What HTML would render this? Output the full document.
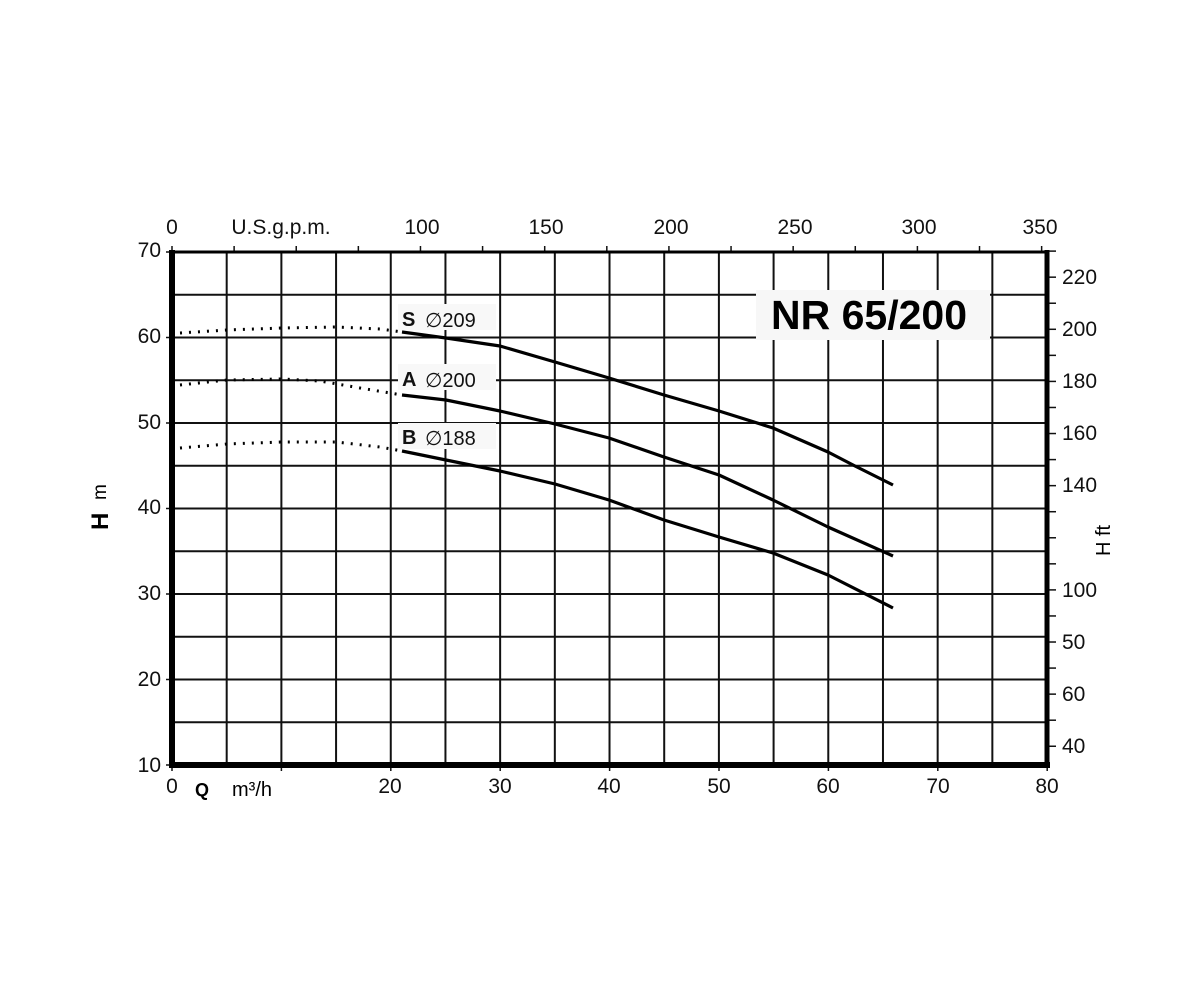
<!DOCTYPE html>
<html><head><meta charset="utf-8"><style>body{margin:0;background:#fff}svg{display:block}text{font-family:"Liberation Sans",sans-serif}</style></head><body>
<svg width="1200" height="1000" viewBox="0 0 1200 1000" xmlns="http://www.w3.org/2000/svg">
<g stroke="#111" stroke-width="2" fill="none" id="grid"></g>
<script>
(function(){
var ns="http://www.w3.org/2000/svg",g=document.getElementById('grid');
function L(x1,y1,x2,y2,w){var l=document.createElementNS(ns,'line');l.setAttribute('x1',x1);l.setAttribute('y1',y1);l.setAttribute('x2',x2);l.setAttribute('y2',y2);if(w)l.setAttribute('stroke-width',w);g.appendChild(l);}
for(var i=1;i<16;i++){var x=172+i*54.69;L(x,252,x,765);}
for(var j=1;j<12;j++){var y=252+j*42.75;L(172,y,1047,y);}
for(var k=0;k<=14;k++){var x=172+k*25/4.403*10.94;L(x,246,x,252,1.5);}
for(var f=40;f<=230;f+=10){var y=252+(70-f*0.3048)*8.55;L(1047,y,1056,y,1.5);}
for(var m=0;m<=80;m+=10){var x=172+m*10.94;L(x,765,x,771,1.5);}
for(var h=10;h<=70;h+=10){var y=252+(70-h)*8.55;L(166,y,172,y,1.5);}
})();
</script>
<rect x="756" y="290" width="234" height="50" fill="#f7f7f7"/>
<rect x="398" y="304" width="98" height="26" fill="#f8f8f8"/>
<rect x="398" y="364" width="98" height="26" fill="#f8f8f8"/>
<rect x="398" y="423" width="98" height="26" fill="#f8f8f8"/>
<rect x="172" y="252" width="875" height="513" fill="none" stroke="#000" stroke-width="3"/>
<line x1="172" y1="250" x2="172" y2="768" stroke="#000" stroke-width="6"/>
<line x1="169" y1="765" x2="1050" y2="765" stroke="#000" stroke-width="6"/>
<line x1="1047" y1="250" x2="1047" y2="768" stroke="#000" stroke-width="5"/>
<g fill="none" stroke="#000" stroke-width="3.2" stroke-linejoin="round">
<polyline points="402,332 446,338 500,346 555,362 609,378 664,395 719,411 773,428 828,452 855,466 893,485"/>
<polyline points="402,395 446,400 500,411 555,424 609,438 664,457 719,475 773,500 828,527 893,556"/>
<polyline points="402,451 446,460 500,471 555,484 609,500 664,520 719,537 773,553 828,575 893,608"/>
</g>
<g fill="none" stroke="#000" stroke-width="3" stroke-dasharray="2 7">
<polyline points="180,333 227,330 282,328 336,327 380,329 402,332"/>
<polyline points="180,385 227,380 282,379 320,381 360,388 402,395"/>
<polyline points="180,448 227,444 282,442 336,442 380,447 402,451"/>
</g>
<g font-size="20" fill="#111">
<text x="402" y="326" font-weight="bold">S</text><text x="425" y="327">∅209</text>
<text x="402" y="386" font-weight="bold">A</text><text x="425" y="387">∅200</text>
<text x="402" y="444" font-weight="bold">B</text><text x="425" y="445">∅188</text>
</g>
<text x="771" y="329" font-size="41" font-weight="bold">NR 65/200</text>
<g font-size="21" fill="#111" text-anchor="end">
<text x="161" y="257">70</text><text x="161" y="343">60</text><text x="161" y="429">50</text><text x="161" y="514">40</text><text x="161" y="600">30</text><text x="161" y="686">20</text><text x="161" y="772">10</text>
</g>
<g font-size="21" fill="#111" text-anchor="middle">
<text x="172" y="793">0</text><text x="390" y="793">20</text><text x="500" y="793">30</text><text x="609" y="793">40</text><text x="719" y="793">50</text><text x="828" y="793">60</text><text x="938" y="793">70</text><text x="1047" y="793">80</text>
<text x="172" y="234">0</text><text x="422" y="234">100</text><text x="546" y="234">150</text><text x="671" y="234">200</text><text x="795" y="234">250</text><text x="919" y="234">300</text><text x="1040" y="234">350</text>
<text x="281" y="234">U.S.g.p.m.</text>
</g>
<g font-size="21" fill="#111">
<text x="1062" y="284">220</text><text x="1062" y="336">200</text><text x="1062" y="388">180</text><text x="1062" y="440">160</text><text x="1062" y="492">140</text><text x="1062" y="597">100</text><text x="1062" y="649">50</text><text x="1062" y="701">60</text><text x="1062" y="753">40</text>
</g>
<text x="195" y="796" font-size="18" font-weight="bold">Q</text>
<text x="232" y="796" font-size="20">m³/h</text>
<text transform="translate(108,530) rotate(-90)" font-size="24" font-weight="bold">H</text>
<text transform="translate(106,500) rotate(-90)" font-size="19">m</text>
<text transform="translate(1110,556) rotate(-90)" font-size="20">H ft</text>
</svg>
</body></html>
